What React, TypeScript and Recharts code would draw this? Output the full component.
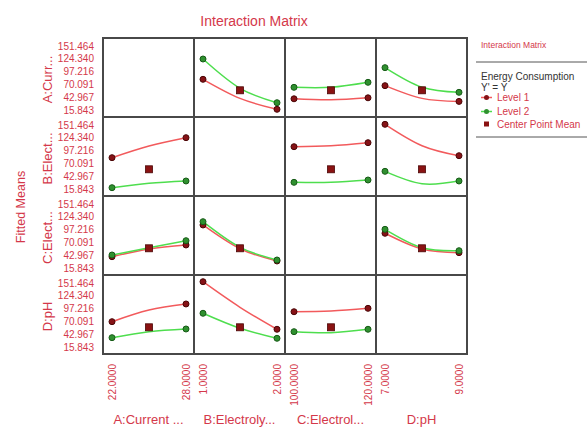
import { LineChart, Line, XAxis, YAxis } from 'recharts';

// factor names and levels
const rowLabels = ['A:Curr...', 'B:Elect...', 'C:Elect...', 'D:pH'];
const colLabels = ['A:Current ...', 'B:Electroly...', 'C:Electrol...', 'D:pH'];
const lowLevels = [22, 1, 100, 7];
const midLevels = [25, 1.5, 110, 8];
const highLevels = [28, 2, 120, 9];
const yTicks = [15.843, 42.967, 70.091, 97.216, 124.34, 151.464];
const centerPointMean = 57.6;

// fitted means of the row factor (level 1 / level 2) at low, center, high of the column factor
const level1A = [null, [80.9, 40.5, 17.3], [39.6, 37.5, 41.7], [67.4, 40.5, 34.1]];
const level2A = [null, [123.9, 61.8, 31.3], [63.9, 63.9, 74.5], [105.6, 63.9, 53.3]];
const level1B = [[82.2, 107, 124.6], null, [105.5, 107.6, 114], [152.9, 107.6, 86.4]];
const level2B = [[18.6, 27.9, 32.8], null, [30, 30, 34.9], [53.3, 27.1, 32.8]];
const level1C = [[39.8, 56.1, 64.6], [107, 56.7, 30.7], null, [89.4, 56.1, 48.3]];
const level2C = [[43.4, 58.9, 73.7], [114, 59.7, 32.8], null, [97.8, 58.9, 52.5]];
const level1D = [[69.5, 94.2, 107], [154.2, 100, 53.4], [90.6, 92.1, 97.8], null];
const level2D = [[35.6, 48.3, 54], [87.3, 55.5, 34.3], [48.3, 46.2, 53.4], null];

const level1Rows = [level1A, level1B, level1C, level1D];
const level2Rows = [level2A, level2B, level2C, level2D];

const GRID_LEFT = 103;
const GRID_TOP = 38;
const CELL_W = 91;
const CELL_H = 79;
const Y_AXIS_W = 70;
const X_AXIS_H = 70;
const Y_DOMAIN = [1.01, 168.41];

const RED_TEXT = '#d4384a';
const LINE1 = '#f25a5c';
const DOT1 = '#861216';
const LINE2 = '#4ede4e';
const DOT2 = '#2f902f';
const DOT2_EDGE = '#175a17';
const CENTER = '#8a1212';
const FONT = '"Liberation Sans", Arial, sans-serif';

const XTick = (props: any) => {
  const { x, y, payload } = props;
  const ty = y + 2;
  return (
    <text
      x={x}
      y={ty}
      dy="0.35em"
      transform={`rotate(-90 ${x} ${ty})`}
      textAnchor="end"
      fill={RED_TEXT}
      fontSize={10}
      fontFamily={FONT}
    >
      {Number(payload.value).toFixed(4)}
    </text>
  );
};

const endDot = (fill: string, edge: string) => (props: any) => {
  const { cx, cy, index } = props;
  if (index === 1 || cx == null || cy == null) return <g key={`e-${index}`} />;
  return <circle key={`d-${index}`} cx={cx} cy={cy} r={3} fill={fill} stroke={edge} strokeWidth={1} />;
};

const centerDot = (props: any) => {
  const { cx, cy, index, value } = props;
  if (value == null || cx == null || cy == null) return <g key={`c-${index}`} />;
  return <rect key={`c-${index}`} x={cx - 3.5} y={cy - 3.5} width={7} height={7} fill={CENTER} stroke="#4a0606" strokeWidth={0.8} />;
};

function Panel({ row, col }: { row: number; col: number }) {
  const lo = lowLevels[col];
  const hi = highLevels[col];
  const span = hi - lo;
  const domain = [lo - (9 * span) / 74, hi + (8 * span) / 74];
  const l1 = level1Rows[row][col];
  const l2 = level2Rows[row][col];
  const data = [lo, midLevels[col], hi].map((x, i) => ({
    x,
    l1: l1 ? l1[i] : null,
    l2: l2 ? l2[i] : null,
    center: i === 1 && l1 ? centerPointMean : null,
  }));
  const showY = col === 0;
  const showX = row === 3;
  const width = CELL_W + (showY ? Y_AXIS_W : 0);
  const height = CELL_H + (showX ? X_AXIS_H : 0);

  return (
    <div
      style={{
        position: 'absolute',
        left: GRID_LEFT + col * CELL_W - (showY ? Y_AXIS_W : 0),
        top: GRID_TOP + row * CELL_H,
      }}
    >
      <LineChart width={width} height={height} data={data} margin={{ top: 0, right: 0, bottom: 0, left: 0 }}>
        <XAxis
          dataKey="x"
          type="number"
          domain={domain}
          ticks={[lo, hi]}
          interval={0}
          hide={!showX}
          height={X_AXIS_H}
          tickLine={false}
          axisLine={false}
          tick={<XTick />}
          allowDataOverflow
        />
        <YAxis
          type="number"
          domain={Y_DOMAIN}
          ticks={yTicks}
          interval={0}
          hide={!showY}
          width={Y_AXIS_W}
          tickLine={false}
          axisLine={false}
          tickMargin={3}
          tick={{ fill: RED_TEXT, fontSize: 10, fontFamily: FONT }}
          tickFormatter={(v: number) => v.toFixed(3)}
          allowDataOverflow
        />
        {l1 && (
          <Line
            dataKey="l1"
            type="natural"
            stroke={LINE1}
            strokeWidth={1.5}
            dot={endDot(DOT1, '#4a0606')}
            activeDot={false}
            isAnimationActive={false}
          />
        )}
        {l2 && (
          <Line
            dataKey="l2"
            type="natural"
            stroke={LINE2}
            strokeWidth={1.5}
            dot={endDot(DOT2, DOT2_EDGE)}
            activeDot={false}
            isAnimationActive={false}
          />
        )}
        {l1 && (
          <Line
            dataKey="center"
            stroke="none"
            dot={centerDot}
            activeDot={false}
            isAnimationActive={false}
          />
        )}
      </LineChart>
    </div>
  );
}

export default function App() {
  const gridW = CELL_W * 4;
  const gridH = CELL_H * 4;
  const cells = [];
  for (let r = 0; r < 4; r++) {
    for (let c = 0; c < 4; c++) {
      cells.push(<Panel key={`${r}-${c}`} row={r} col={c} />);
    }
  }
  const lines = [];
  for (let i = 0; i <= 4; i++) {
    lines.push(
      <div key={`v${i}`} style={{ position: 'absolute', left: GRID_LEFT + i * CELL_W - 1, top: GRID_TOP - 1, width: 2, height: gridH + 2, background: '#484848' }} />,
      <div key={`h${i}`} style={{ position: 'absolute', left: GRID_LEFT - 1, top: GRID_TOP + i * CELL_H - 1, width: gridW + 2, height: 2, background: '#484848' }} />
    );
  }

  return (
    <div style={{ position: 'absolute', left: 0, top: 0, width: 587, height: 427, background: '#fff', overflow: 'hidden', fontFamily: FONT }}>
      {cells}
      {lines}
      <svg width={587} height={427} style={{ position: 'absolute', left: 0, top: 0, pointerEvents: 'none' }}>
        <text x={254} y={26} textAnchor="middle" fill={RED_TEXT} fontSize={14} fontFamily={FONT}>
          Interaction Matrix
        </text>
        <text x={24.5} y={207} transform="rotate(-90 24.5 207)" textAnchor="middle" fill={RED_TEXT} fontSize={12.5} fontFamily={FONT}>
          Fitted Means
        </text>
        {rowLabels.map((label, i) => {
          const cy = GRID_TOP + i * CELL_H + CELL_H / 2 + 2;
          return (
            <text key={label + i} x={52} y={cy} transform={`rotate(-90 52 ${cy})`} textAnchor="middle" fill={RED_TEXT} fontSize={13} fontFamily={FONT}>
              {label}
            </text>
          );
        })}
        {colLabels.map((label, i) => (
          <text key={label + i} x={GRID_LEFT + i * CELL_W + CELL_W / 2} y={424} textAnchor="middle" fill={RED_TEXT} fontSize={13} fontFamily={FONT}>
            {label}
          </text>
        ))}
        {/* legend */}
        <text x={481} y={48} fill={RED_TEXT} fontSize={8.5} fontFamily={FONT}>Interaction Matrix</text>
        <line x1={476} x2={587} y1={62} y2={62} stroke="#555" strokeWidth={1} />
        <text x={481} y={80} fill="#333" fontSize={10} fontFamily={FONT}>Energy Consumption</text>
        <text x={481} y={91} fill="#333" fontSize={10} fontFamily={FONT}>Y' = Y</text>
        <line x1={481} x2={492} y1={97.5} y2={97.5} stroke={LINE1} strokeWidth={1.5} />
        <circle cx={486.5} cy={97.5} r={2.5} fill={DOT1} />
        <text x={497} y={101} fill={RED_TEXT} fontSize={10} fontFamily={FONT}>Level 1</text>
        <line x1={481} x2={492} y1={111.5} y2={111.5} stroke={LINE2} strokeWidth={1.5} />
        <circle cx={486.5} cy={111.5} r={2.5} fill={DOT2} />
        <text x={497} y={115} fill={RED_TEXT} fontSize={10} fontFamily={FONT}>Level 2</text>
        <rect x={484} y={121.5} width={5} height={5} fill={CENTER} />
        <text x={497} y={128} fill={RED_TEXT} fontSize={10} fontFamily={FONT}>Center Point Mean</text>
        <line x1={476} x2={587} y1={137} y2={137} stroke="#555" strokeWidth={1} />
      </svg>
    </div>
  );
}
